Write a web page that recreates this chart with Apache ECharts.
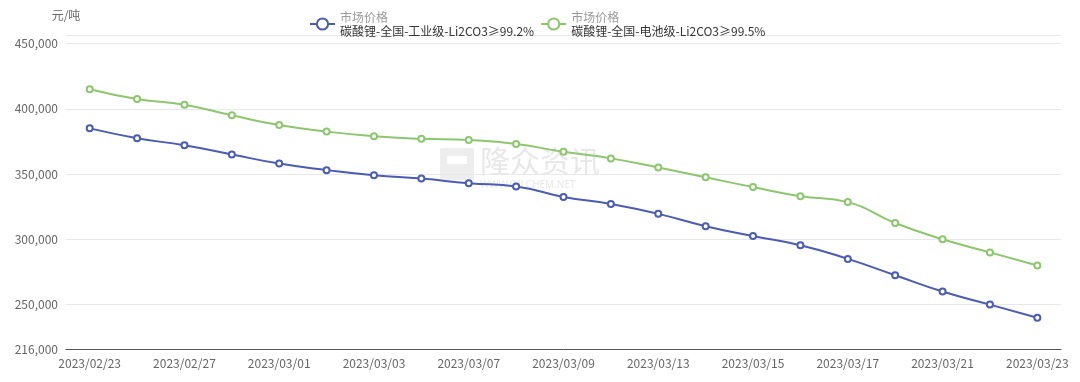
<!DOCTYPE html>
<html>
<head>
<meta charset="utf-8">
<script src="https://cdn.jsdelivr.net/npm/echarts@6/dist/echarts.min.js"></script>
<style>
html,body{margin:0;padding:0;background:#fff;}
#c{width:1080px;height:382px;}
</style>
</head>
<body>
<div id="c"></div>
<script>
var categories = ["2023/02/23","2023/02/24","2023/02/27","2023/02/28","2023/03/01","2023/03/02","2023/03/03","2023/03/06","2023/03/07","2023/03/08","2023/03/09","2023/03/10","2023/03/13","2023/03/14","2023/03/15","2023/03/16","2023/03/17","2023/03/20","2023/03/21","2023/03/22","2023/03/23"];
var industrialName = "碳酸锂-全国-工业级-Li2CO3≥99.2%";
var batteryName = "碳酸锂-全国-电池级-Li2CO3≥99.5%";
var industrial = [385000,377500,372000,365000,358000,353000,349000,346500,343000,340500,332500,327000,319500,310000,302500,295500,285000,272500,260000,250000,240000];
var battery = [415000,407500,403000,395000,387500,382500,379000,377000,376000,373000,367000,362000,355000,347500,340000,333000,328500,312500,300000,290000,280000];
var yMin = 216000;
var yMax = 456500;

var font = '"Noto Sans CJK SC", "Noto Sans", sans-serif';
var chart = echarts.init(document.getElementById('c'), null, {renderer:'canvas'});
chart.setOption({
  animation:false,
  backgroundColor:'#fff',
  textStyle:{fontFamily:font},
  graphic:[{
    type:'group', left:440, top:146, z:0, silent:true,
    children:[
      {type:'rect', shape:{x:0,y:4,width:34,height:32,r:2}, style:{fill:'#ededed'}},
      {type:'rect', shape:{x:7,y:12,width:20,height:8}, style:{fill:'#fff'}},
      {type:'text', x:40, y:2, style:{text:'隆众资讯', fill:'#e8e8e8', font:'30px "Noto Sans CJK SC"'}},
      {type:'text', x:40, y:36, style:{text:'WWW.OILCHEM.NET', fill:'#e8e8e8', font:'10px "Noto Sans", sans-serif'}}
    ]
  }],
  legend:{
    left:304, top:6, itemGap:6, itemWidth:25, itemHeight:14,
    data:[industrialName, batteryName],
    formatter:function(n){return '{a|市场价格}\n{b|'+n+'}';},
    textStyle:{rich:{
      a:{color:'#999',fontSize:12,lineHeight:14,fontFamily:font},
      b:{color:'#333',fontSize:12,lineHeight:14,fontFamily:font}
    }}
  },
  grid:{left:66, right:19, top:35, bottom:33, containLabel:false},
  xAxis:{
    type:'category', boundaryGap:true, data:categories,
    axisLine:{lineStyle:{color:'#555'}},
    axisTick:{alignWithLabel:true, interval:1, lineStyle:{color:'#555'}},
    axisLabel:{interval:1, color:'#666', fontSize:12, margin:8, fontFamily:font}
  },
  yAxis:{
    type:'value', min:yMin, max:yMax, name:'元/吨',
    nameLocation:'end', nameGap:14, nameTextStyle:{color:'#666', fontSize:12, align:'center', padding:[0,0,0,0]},
    axisLine:{show:false}, axisTick:{show:false},
    axisLabel:{color:'#666', fontSize:12, margin:8, showMaxLabel:false, fontFamily:font,
      formatter:function(v){return v.toLocaleString('en-US');}},
    splitLine:{lineStyle:{color:'#e8e8e8'}}
  },
  series:[
    {name:industrialName, type:'line', data:industrial, smooth:true, symbol:'emptyCircle', symbolSize:6,
     itemStyle:{color:'#4a5cb3'}, lineStyle:{width:2, color:'#4a5cb3'}, z:3},
    {name:batteryName, type:'line', data:battery, smooth:true, symbol:'emptyCircle', symbolSize:6,
     itemStyle:{color:'#8cc76e'}, lineStyle:{width:2, color:'#8cc76e'}, z:3}
  ]
});
</script>
</body>
</html>
